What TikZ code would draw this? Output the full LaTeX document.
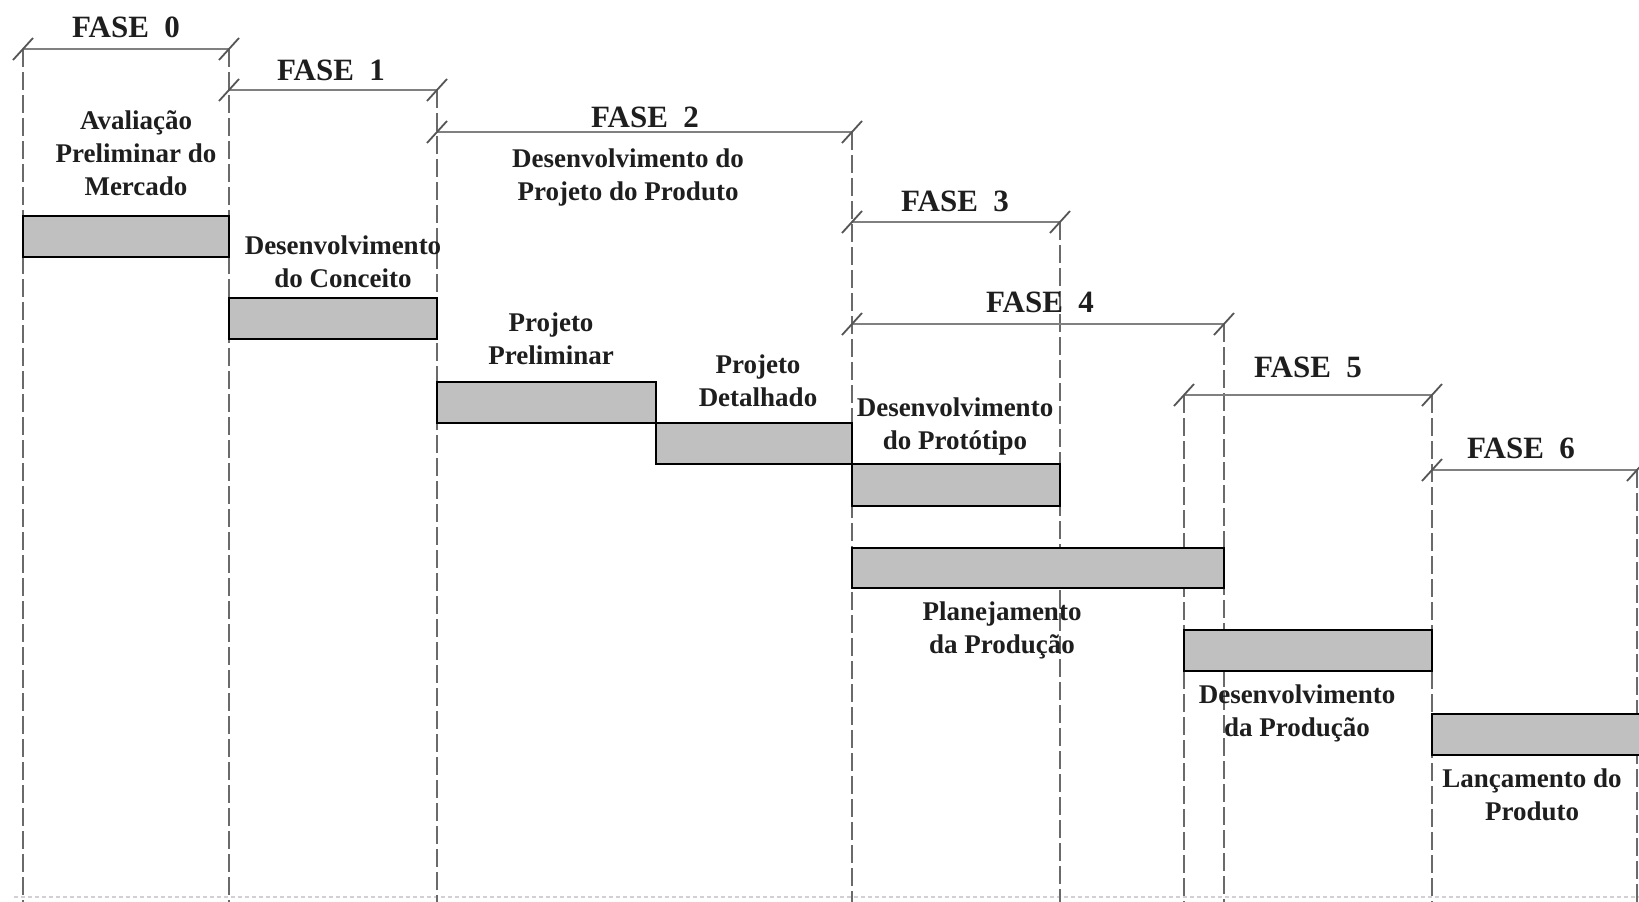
\documentclass[tikz,border=0pt]{standalone}
\usepackage{fontspec}
\setmainfont{Liberation Serif}
\definecolor{barfill}{HTML}{C0C0C0}
\definecolor{dimgray}{HTML}{808080}
\definecolor{tickgray}{HTML}{555555}
\definecolor{guidegray}{HTML}{6A6A6A}
\definecolor{txt}{HTML}{1E1E1E}
\begin{document}
\begin{tikzpicture}[x=1pt,y=-1pt,
  dimline/.style={draw=dimgray, line width=2.2pt},
  tickmark/.style={draw=tickgray, line width=1.8pt},
  guide/.style={draw=guidegray, line width=1.3pt, dash pattern=on 18pt off 5pt},
  bar/.style={draw=black, fill=barfill, line width=1.8pt},
  phase/.style={font=\fontsize{31}{31}\selectfont\bfseries, text=txt, inner sep=0pt},
  lbl/.style={font=\fontsize{27}{33}\selectfont\bfseries, text=txt, align=center, inner sep=0pt},
  faint/.style={draw=black!18, line width=1.5pt, dash pattern=on 4pt off 3pt}]
\useasboundingbox (0,0) rectangle (1639,902);
\fill[white] (0,0) rectangle (1639,902);

% phase end points
\coordinate (f0a) at (23,49);   \coordinate (f0b) at (229,49);
\coordinate (f1a) at (229,90);  \coordinate (f1b) at (437,90);
\coordinate (f2a) at (437,132); \coordinate (f2b) at (852,132);
\coordinate (f3a) at (852,222); \coordinate (f3b) at (1060,222);
\coordinate (f4a) at (852,324); \coordinate (f4b) at (1224,324);
\coordinate (f5a) at (1184,395);\coordinate (f5b) at (1432,395);
\coordinate (f6a) at (1432,470);\coordinate (f6b) at (1637,470);

% bottom ends of guides
\coordinate (g0) at (23,902);   \coordinate (g1) at (229,902);
\coordinate (g2) at (437,902);  \coordinate (g3) at (852,902);
\coordinate (g4) at (1060,902); \coordinate (g5) at (1224,902);
\coordinate (g6) at (1184,902); \coordinate (g7) at (1432,902);
\coordinate (g8) at (1637,902);

% faint bottom line
\coordinate (bl) at (14,897); \coordinate (br) at (1639,897);
\draw[faint] (bl) -- (br);

% vertical dashed guides
\draw[guide] (f0a) -- (g0);
\draw[guide] (f0b) -- (g1);
\draw[guide] (f1b) -- (g2);
\draw[guide] (f2b) -- (g3);
\draw[guide] (f3b) -- (g4);
\draw[guide] (f4b) -- (g5);
\draw[guide] (f5a) -- (g6);
\draw[guide] (f5b) -- (g7);
\draw[guide] (f6b) -- (g8);

% dimension lines with ticks
\foreach \p in {0,...,6}{
  \draw[dimline] (f\p a) -- (f\p b);
  \draw[tickmark] (f\p a) ++(-10,11) -- ++(20,-22);
  \draw[tickmark] (f\p b) ++(-10,11) -- ++(20,-22);
}

% phase titles
\node[phase] (t0) at (126,27)  {FASE\hspace{0.5em}0};
\node[phase] (t1) at (331,70)  {FASE\hspace{0.5em}1};
\node[phase] (t2) at (645,117) {FASE\hspace{0.5em}2};
\node[phase] (t3) at (955,201) {FASE\hspace{0.5em}3};
\node[phase] (t4) at (1040,302){FASE\hspace{0.5em}4};
\node[phase] (t5) at (1308,367){FASE\hspace{0.5em}5};
\node[phase] (t6) at (1521,448){FASE\hspace{0.5em}6};

% bars
\draw[bar] (23,216) rectangle (229,257);
\draw[bar] (229,298) rectangle (437,339);
\draw[bar] (437,382) rectangle (656,423);
\draw[bar] (656,423) rectangle (852,464);
\draw[bar] (852,464) rectangle (1060,506);
\draw[bar] (852,548) rectangle (1224,588);
\draw[bar] (1184,630) rectangle (1432,671);
\draw[bar] (1432,714) rectangle (1645,755);

% labels
\node[lbl] (l0) at (136,153) {Avaliação\\Preliminar do\\Mercado};
\node[lbl] (l1) at (343,262) {Desenvolvimento\\do Conceito};
\node[lbl] (l2) at (628,178) {Desenvolvimento do\\Projeto do Produto};
\node[lbl] (l2a) at (551,339) {Projeto\\Preliminar};
\node[lbl] (l2b) at (758,381) {Projeto\\Detalhado};
\node[lbl] (l3) at (955,427) {Desenvolvimento\\do Protótipo};
\node[lbl] (l4) at (1002,630) {Planejamento\\da Produção};
\node[lbl] (l5) at (1297,713) {Desenvolvimento\\da Produção};
\node[lbl] (l6) at (1532,795) {Lançamento do\\Produto};
\end{tikzpicture}
\end{document}
